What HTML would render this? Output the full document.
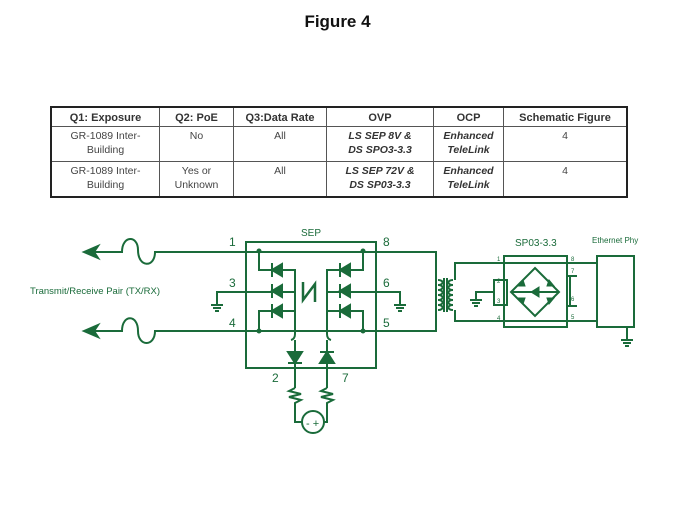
<!DOCTYPE html>
<html><head><style>
body{margin:0;background:#fff;width:675px;height:506px;overflow:hidden;font-family:"Liberation Sans",sans-serif}
.t{position:absolute;left:50px;top:106px;border-collapse:collapse;border:2px solid #222;font-size:10.5px;color:#444}
.t td{border:1px solid #555;text-align:center;vertical-align:top;padding:2px 2px 0;line-height:14px}
.t tr.h td{font-weight:bold;color:#333;height:16px;font-size:11px;vertical-align:middle}
.t i{font-weight:bold;color:#333}
</style></head><body>
<div style="position:absolute;left:0;width:675px;top:12px;text-align:center;font-weight:bold;font-size:17px;color:#111">Figure 4</div>
<table class="t">
<tr class="h"><td style="width:103px">Q1: Exposure</td><td style="width:69px">Q2: PoE</td><td style="width:88px">Q3:Data Rate</td><td style="width:102px">OVP</td><td style="width:65px">OCP</td><td style="width:118px">Schematic Figure</td></tr>
<tr><td style="height:32px">GR-1089 Inter-<br>Building</td><td>No</td><td>All</td><td><i>LS SEP 8V &amp;<br>DS SPO3-3.3</i></td><td><i>Enhanced<br>TeleLink</i></td><td>4</td></tr>
<tr><td style="height:32px">GR-1089 Inter-<br>Building</td><td>Yes or<br>Unknown</td><td>All</td><td><i>LS SEP 72V &amp;<br>DS SP03-3.3</i></td><td><i>Enhanced<br>TeleLink</i></td><td>4</td></tr>
</table>
<svg width="675" height="506" style="position:absolute;left:0;top:0" xmlns="http://www.w3.org/2000/svg">
<g stroke="#1a6b3a" stroke-width="2" fill="none">
<path d="M88 252H122 C122 235 138 235 138 250 C138 268 155 268 155 252H436V331H155 C155 347 138 347 138 331 C138 314 122 314 122 331H88"/>
<path d="M217 305V292H295"/><path d="M211 305h12M213 308h8M215 311h4"/>
<rect x="246" y="242" width="130" height="126"/>
<path d="M259 251V270H295V327M363 251V270H327V327"/>
<path d="M259 331V311H295M363 331V311H327"/>
<path d="M327 292H400V305M394 305h12M396 308h8M398 311h4"/>
<path d="M303 282V300L315 284V302" stroke-width="2.5"/>
<path d="M295 327V334Q295 339 291 340M295 340V388M327 327V334Q327 339 331 340M327 340V388"/>
<path d="M295 388l-6 3 12 3-12 3 12 3-6 3V422H302M327 388l-6 3 12 3-12 3 12 3-6 3V422H324"/>
<circle cx="313" cy="422" r="11"/>
<path d="M438 280c6 0 6 5 0 5c6 0 6 5 0 5c6 0 6 5 0 5c6 0 6 5 0 5c6 0 6 5 0 5c6 0 6 5 0 5"/>
<path d="M444 278V312M447 278V312"/>
<path d="M453 280c-6 0 -6 5 0 5c-6 0 -6 5 0 5c-6 0 -6 5 0 5c-6 0 -6 5 0 5c-6 0 -6 5 0 5c-6 0 -6 5 0 5"/>
<path d="M455 280V263H597M455 310V321H597"/>
<rect x="504" y="256" width="63" height="71"/>
<rect x="494" y="280" width="13" height="25"/>
<path d="M494 292H476V300M470 300h12M472 303h8M474 306h4"/>
<path d="M567 276H577M567 306H577M570 276V306"/>
<path d="M535 268L559 292L535 316L511 292Z"/>
<path d="M511 292H559"/>
<rect x="597" y="256" width="37" height="71"/>
<path d="M627 327V340M621 340h12M623 343h8M625 346h4"/>
</g>
<g fill="#1a6b3a" stroke="#1a6b3a" stroke-width="2">
<path d="M84 252l14-6-4 6 4 6z"/><path d="M84 331l14-6-4 6 4 6z"/>
<path d="M272 270l10-6v12z"/><path d="M272 291l10-6v12z"/><path d="M272 311l10-6v12z"/>
<path d="M272 263v14M272 284v14M272 304v14"/>
<path d="M340 270l10-6v12z"/><path d="M340 291l10-6v12z"/><path d="M340 311l10-6v12z"/>
<path d="M340 263v14M340 284v14M340 304v14"/>
<path d="M295 363l-7-11h14z"/><path d="M288 363h14"/>
<path d="M327 352l-7 11h14z"/><path d="M320 352h14"/>
<circle cx="259" cy="251" r="1.5"/><circle cx="363" cy="251" r="1.5"/><circle cx="259" cy="331" r="1.5"/><circle cx="363" cy="331" r="1.5"/>
<path d="M531 292l8-5v10z" stroke-width="1"/>
<path d="M523 280l-5 6 7 0z M549 280l5 6-7 0z M523 304l-5-6 7 0z M549 304l5-6-7 0z" stroke-width="1"/>
</g>
<g fill="#1a6b3a" font-family="Liberation Sans,sans-serif" font-size="12">
<text x="229" y="246">1</text><text x="383" y="246">8</text>
<text x="229" y="287">3</text><text x="383" y="287">6</text>
<text x="229" y="327">4</text><text x="383" y="327">5</text>
<text x="272" y="382">2</text><text x="342" y="382">7</text>
<text x="301" y="236" font-size="10">SEP</text>
<text x="306" y="427" font-size="11">- +</text>
<text x="30" y="294" font-size="9.5">Transmit/Receive Pair (TX/RX)</text>
<text x="515" y="246" font-size="10">SP03-3.3</text>
<text x="592" y="243" font-size="8">Ethernet Phy</text>
<g font-size="6"><text x="497" y="261">1</text><text x="497" y="283">2</text><text x="497" y="303">3</text><text x="497" y="320">4</text>
<text x="571" y="261">8</text><text x="571" y="273">7</text><text x="571" y="301">6</text><text x="571" y="319">5</text></g>
</g>
</svg>
</body></html>
